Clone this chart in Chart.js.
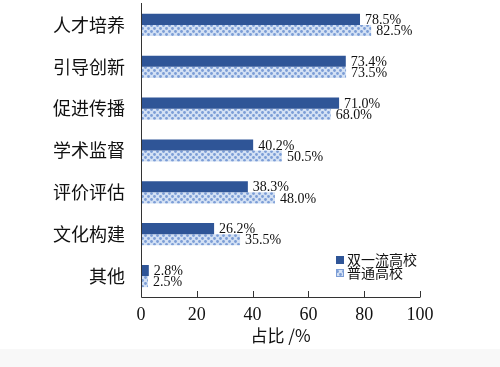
<!DOCTYPE html>
<html>
<head>
<meta charset="utf-8">
<script src="https://cdn.jsdelivr.net/npm/chart.js@4.4.1/dist/chart.umd.min.js"></script>
<style>
  html, body { margin: 0; padding: 0; background: #fff; }
  #wrap { width: 500px; height: 367px; }
</style>
</head>
<body>
<div id="wrap"><canvas id="myChart" width="500" height="367"></canvas></div>
<script>
// chart data
const categories = ['人才培养', '引导创新', '促进传播', '学术监督', '评价评估', '文化构建', '其他'];
const shuangyiliu = [78.5, 73.4, 71.0, 40.2, 38.3, 26.2, 2.8];
const putong = [82.5, 73.5, 68.0, 50.5, 48.0, 35.5, 2.5];
const xTicks = [0, 20, 40, 60, 80, 100];

const serif = '"Liberation Serif", "DejaVu Serif", serif';
const cjk = '"Noto Sans CJK SC", "Noto Sans", sans-serif';

// light blue patterned fill
const makePattern = () => {
  const c = document.createElement('canvas');
  c.width = 6; c.height = 6;
  const g = c.getContext('2d');
  g.fillStyle = '#d4e1f4';
  g.fillRect(0, 0, 6, 6);
  g.fillStyle = '#7c9dd6';
  g.beginPath(); g.arc(1.5, 1.5, 1.4, 0, Math.PI * 2); g.fill();
  g.beginPath(); g.arc(4.5, 4.5, 1.4, 0, Math.PI * 2); g.fill();
  return g.createPattern(c, 'repeat');
};
const pattern = makePattern();

// value labels, inner ticks and legend
const extras = {
  id: 'extras',
  beforeDraw(chart) {
    const ctx = chart.ctx;
    ctx.save();
    ctx.fillStyle = '#f8f8f8';
    ctx.fillRect(0, 349, chart.width, chart.height - 349);
    ctx.restore();
  },
  afterDatasetsDraw(chart) {
    const ctx = chart.ctx;
    const x = chart.scales.x;
    const area = chart.chartArea;
    ctx.save();
    // value labels
    ctx.font = '14px ' + serif;
    ctx.fillStyle = '#111';
    ctx.textBaseline = 'middle';
    ctx.textAlign = 'left';
    chart.data.datasets.forEach((ds, i) => {
      chart.getDatasetMeta(i).data.forEach((bar, j) => {
        ctx.fillText(ds.data[j].toFixed(1) + '%', bar.x + 5, bar.y + 1);
      });
    });
    // axis lines and inward ticks
    ctx.strokeStyle = '#333';
    ctx.lineWidth = 1;
    ctx.beginPath();
    ctx.moveTo(area.left + 0.5, area.top - 1);
    ctx.lineTo(area.left + 0.5, area.bottom + 0.5);
    ctx.lineTo(x.getPixelForValue(100) + 0.5, area.bottom + 0.5);
    xTicks.slice(1).forEach(v => {
      const px = Math.round(x.getPixelForValue(v)) + 0.5;
      ctx.moveTo(px, area.bottom);
      ctx.lineTo(px, area.bottom - 6);
    });
    ctx.stroke();
    // legend
    ctx.font = '14px ' + cjk;
    chart.data.datasets.forEach((ds, i) => {
      const ly = 260 + i * 13;
      ctx.fillStyle = ds.backgroundColor;
      ctx.fillRect(336, ly - 4, 8, 8);
      if (i === 1) {
        ctx.strokeStyle = '#7c9dd6';
        ctx.strokeRect(336.5, ly - 3.5, 7, 7);
      }
      ctx.fillStyle = '#111';
      ctx.fillText(ds.label, 347, ly);
    });
    ctx.restore();
  }
};

new Chart(document.getElementById('myChart'), {
  type: 'bar',
  data: {
    labels: categories,
    datasets: [
      { label: '双一流高校', data: shuangyiliu, backgroundColor: '#2f5597' },
      { label: '普通高校', data: putong, backgroundColor: pattern }
    ]
  },
  options: {
    indexAxis: 'y',
    responsive: false,
    animation: false,
    layout: { padding: { top: 4, right: 80, bottom: 21, left: 0 } },
    datasets: { bar: { categoryPercentage: 0.53, barPercentage: 1.0 } },
    plugins: {
      legend: { display: false },
      tooltip: { enabled: false }
    },
    scales: {
      x: {
        min: 0,
        max: 100,
        afterBuildTicks: (axis) => { axis.ticks = xTicks.map(v => ({ value: v })); },
        afterFit: (axis) => { axis.paddingLeft = 0; axis.paddingRight = 0; },
        grid: { display: false, drawTicks: false },
        border: { display: false },
        ticks: {
          font: { family: serif, size: 18 },
          color: '#111',
          padding: 7
        },
        title: {
          display: true,
          text: '占比 /%',
          font: { family: cjk, size: 17 },
          color: '#111',
          padding: { top: -7, bottom: 0 }
        }
      },
      y: {
        afterFit: (axis) => { axis.width = 141; axis.paddingTop = 0; axis.paddingBottom = 0; },
        grid: { display: false },
        border: { display: false },
        ticks: {
          font: { family: cjk, size: 18 },
          color: '#111',
          padding: 8
        }
      }
    }
  },
  plugins: [extras]
});
</script>
</body>
</html>
